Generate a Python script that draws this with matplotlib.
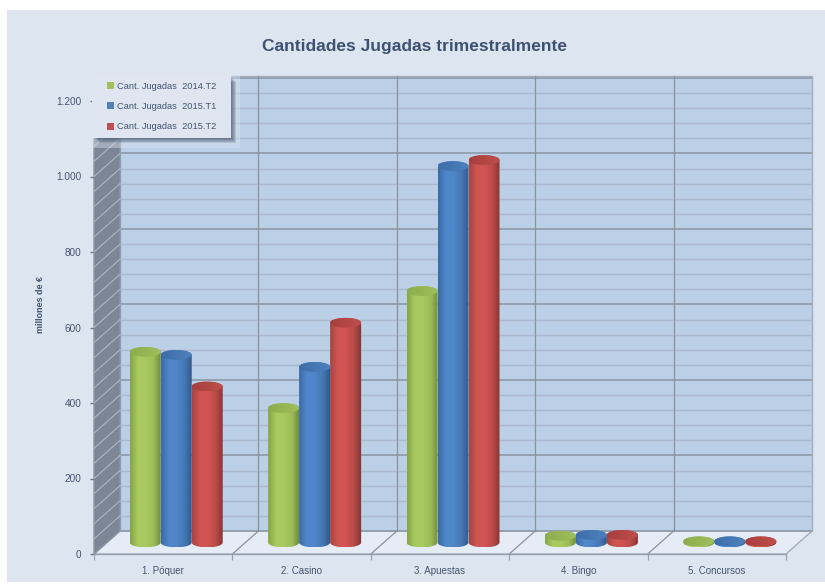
import numpy as np
import matplotlib
matplotlib.use("Agg")
import matplotlib.pyplot as plt
from matplotlib.colors import LinearSegmentedColormap
from matplotlib.patches import Polygon, Rectangle, PathPatch, Patch
from matplotlib.path import Path

categories = ["1. Póquer", "2. Casino", "3. Apuestas", "4. Bingo", "5. Concursos"]
series_names = ["Cant. Jugadas  2014.T2", "Cant. Jugadas  2015.T1", "Cant. Jugadas  2015.T2"]
vals_2014t2 = [505, 356, 666, 18, 3]
vals_2015t1 = [497, 465, 997, 20, 3]
vals_2015t2 = [413, 582, 1013, 20, 3]
y_ticks = [0, 200, 400, 600, 800, 1000, 1200]
y_labels = ["0", "200", "400", "600", "800", "1.000", "1.200"]

TXT = "#44546f"
plt.rcParams["font.family"] = ["Liberation Sans"]

W, H = 825, 588
fig = plt.figure(figsize=(W / 100, H / 100), dpi=100, facecolor="white")
fig.patches.append(Rectangle((7 / W, 6 / H), 818 / W, 572 / H, transform=fig.transFigure,
                             fc="#dde5f1", ec="none", zorder=-5))

# front plane of the fake 3d box
ax = fig.add_axes([94 / W, (H - 554) / H, 692 / W, 453 / H])
ax.patch.set_alpha(0)
ax.set_zorder(5)
ax.set_xlim(0, 5)
ax.set_ylim(0, 1200)
dx, dy = 0.188, 61

# back wall, floor, left wall
ax.add_patch(Rectangle((dx, dy), 5, 1205, fc="#bbcfe7", ec="#a3aebd", lw=1, clip_on=False, zorder=1))
ax.add_patch(Polygon([(0, 0), (5, 0), (5 + dx, dy), (dx, dy)], fc="#e6ecf6", ec="#a3aebd", lw=1,
                     clip_on=False, zorder=1))
ax.add_patch(Polygon([(0, 0), (dx, dy), (dx, 1205 + dy), (0, 1205)], fc="#7b8797", ec="#8b95a3", lw=1,
                     clip_on=False, zorder=1))
for v in np.arange(0, 1201, 40):
    major = v % 200 == 0
    ax.plot([dx, 5 + dx], [v + dy, v + dy], color="#929eae" if major else "#abb9cd", lw=1.3 if major else 1.0,
            clip_on=False, zorder=2, solid_capstyle="butt")
    if v > 0:
        ax.plot([0, dx], [v, v + dy], color="#aeb6c2", lw=0.8, clip_on=False, zorder=2)
for i in range(1, 5):
    ax.plot([i + dx, i + dx], [dy, 1205 + dy], color="#8a929e", lw=0.9, clip_on=False, zorder=2)
    ax.plot([i, i + dx], [0, dy], color="#8a929e", lw=0.9, clip_on=False, zorder=2)

# cylinders
bar_w = 0.224
ell_h = 26
cmaps = [
    ["#86a548", "#a9cb60", "#a7c95f", "#9dbd59", "#6d8638"],
    ["#3c6ba6", "#5088cb", "#4f86c8", "#4677b3", "#2f5585"],
    ["#a84441", "#d05553", "#cf5452", "#bb4b49", "#803230"],
]
top_cols = [("#8dac4e", "#9fc05b"), ("#3f6ea8", "#4d81bf"), ("#a63f3c", "#c04f4c")]
all_vals = [vals_2014t2, vals_2015t1, vals_2015t2]
t = np.linspace(0, np.pi, 40)


def cylinder(x0, v, k, z):
    cx = x0 + bar_w / 2
    base = dy / 2
    xs = cx + np.cos(t) * bar_w / 2
    low = base - np.sin(t) * ell_h / 2
    up = base + v + np.sin(t) * ell_h / 2
    outline = np.r_[np.c_[xs[::-1], low[::-1]], np.c_[xs, up]]
    cm = LinearSegmentedColormap.from_list("c", cmaps[k])
    im = ax.imshow(np.linspace(0, 1, 64)[None, :], cmap=cm, aspect="auto", zorder=z,
                   extent=[x0, x0 + bar_w, base - ell_h / 2, base + v + ell_h / 2])
    im.set_clip_path(PathPatch(Path(outline), transform=ax.transData))
    # lid
    lid_up = base + v + np.sin(t) * ell_h / 2
    lid_lo = base + v - np.sin(t) * ell_h / 2
    lid = np.r_[np.c_[xs, lid_up], np.c_[xs[::-1], lid_lo[::-1]]]
    cm2 = LinearSegmentedColormap.from_list("l", top_cols[k])
    im2 = ax.imshow(np.linspace(0, 1, 32)[None, :], cmap=cm2, aspect="auto", zorder=z + 0.1,
                    extent=[x0, x0 + bar_w, base + v - ell_h / 2, base + v + ell_h / 2])
    im2.set_clip_path(PathPatch(Path(lid), transform=ax.transData))


for i in range(len(categories)):
    start = i + 0.5 + dx / 2 - 1.5 * bar_w
    for k, vals in enumerate(all_vals):
        cylinder(start + k * bar_w, vals[i], k, 5 + k)

ax.set_xlim(0, 5)
ax.set_ylim(0, 1200)

# axes
for s in ["top", "right", "left"]:
    ax.spines[s].set_visible(False)
ax.spines["bottom"].set_color("#98a2b0")
ax.spines["bottom"].set_linewidth(1.0)
ax.set_yticks(y_ticks)
ax.set_yticklabels(y_labels)
ax.tick_params(axis="y", length=3, width=1, color="#6c7786", labelsize=7.2, labelcolor=TXT, pad=6)
ax.set_xticks(range(6))
ax.set_xticklabels([])
ax.set_xticks(np.arange(5) + 0.5, categories, minor=True)
ax.tick_params(axis="x", which="major", length=4, width=0.9, color="#98a2b0")
ax.tick_params(axis="x", which="minor", length=0, labelsize=7, labelcolor=TXT, pad=9)
ax.set_ylabel("millones de €", fontsize=6.5, fontweight="bold", color=TXT)
ax.yaxis.set_label_coords(-49 / 692, 0.55)

fig.text(414.5 / W, (H - 47) / H, "Cantidades Jugadas trimestralmente", ha="center", va="center",
         fontsize=12.5, fontweight="bold", color="#3f5170")


def px_box(x0, y0, x1, y1, **kw):
    # legend furniture is placed in pixels, top-left origin
    fig.add_artist(Rectangle((x0 / W, (H - y1) / H), (x1 - x0) / W, (y1 - y0) / H,
                             transform=fig.transFigure, ec="none", **kw))


# pale halo, soft shadow, then the box itself
px_box(92, 75, 240, 148, fc="#dde5f1", alpha=0.4, zorder=10)
for g in range(5, 0, -1):
    px_box(92 + 2 + g, 75 + 2 + g, 231 + g, 138 + g, fc="#33415a", alpha=0.16, zorder=10.1)
px_box(92, 75, 231, 138, fc="#dfe6f2", zorder=10.2)

handles = [Patch(fc=c) for c in ["#9fc05b", "#4f81bd", "#c0504d"]]
leg = fig.legend(handles, series_names, loc="upper left", bbox_to_anchor=(107 / W, (H - 82) / H),
                 fontsize=6.7, labelcolor=TXT, frameon=False,
                 handlelength=0.78, handleheight=0.78, handletextpad=0.32, labelspacing=1.2,
                 borderpad=0, borderaxespad=0)
leg.set_zorder(11)

fig.savefig("out.png", dpi=100, facecolor=fig.get_facecolor())
